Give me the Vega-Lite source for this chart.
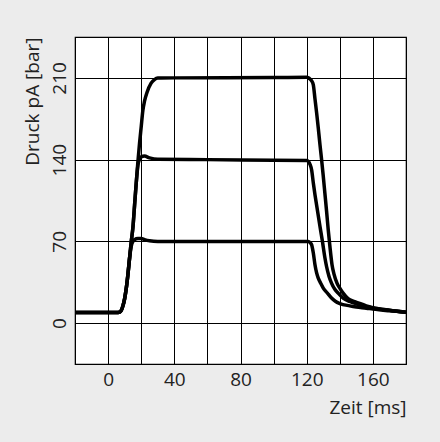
{
  "$schema": "https://vega.github.io/schema/vega-lite/v6.json",
  "autosize": {"type": "none"},
  "padding": {"left": 75, "top": 37, "right": 34, "bottom": 78},
  "width": 331,
  "height": 327,
  "background": "#ececec",
  "config": {
    "font": "Open Sans",
    "view": {"stroke": "#000000", "strokeWidth": 1.2, "fill": "#ffffff"},
    "axis": {
      "labelFont": "Open Sans",
      "titleFont": "Open Sans",
      "labelFontSize": 19,
      "titleFontSize": 19,
      "titleFontWeight": "normal",
      "labelColor": "#222222",
      "titleColor": "#222222",
      "ticks": false,
      "domain": false,
      "gridColor": "#000000",
      "gridOpacity": 1,
      "gridWidth": 1
    }
  },
  "data": {
    "values": [
      {"s": "A", "t": -20, "p": 9}, {"s": "A", "t": 5, "p": 9}, {"s": "A", "t": 7, "p": 9.5}, {"s": "A", "t": 8, "p": 11},
      {"s": "A", "t": 9, "p": 15}, {"s": "A", "t": 10, "p": 21}, {"s": "A", "t": 11, "p": 30}, {"s": "A", "t": 12, "p": 42},
      {"s": "A", "t": 13, "p": 56}, {"s": "A", "t": 14, "p": 66}, {"s": "A", "t": 15, "p": 70}, {"s": "A", "t": 16, "p": 71.5},
      {"s": "A", "t": 18, "p": 72.5}, {"s": "A", "t": 20, "p": 72.5}, {"s": "A", "t": 22, "p": 71.5}, {"s": "A", "t": 25, "p": 70.5},
      {"s": "A", "t": 30, "p": 70}, {"s": "A", "t": 60, "p": 70}, {"s": "A", "t": 100, "p": 70}, {"s": "A", "t": 121, "p": 70},
      {"s": "A", "t": 122, "p": 69}, {"s": "A", "t": 123, "p": 67}, {"s": "A", "t": 124, "p": 60}, {"s": "A", "t": 125, "p": 50},
      {"s": "A", "t": 126, "p": 43}, {"s": "A", "t": 127, "p": 38.5}, {"s": "A", "t": 128.5, "p": 34}, {"s": "A", "t": 130, "p": 30},
      {"s": "A", "t": 132.5, "p": 25.7}, {"s": "A", "t": 135, "p": 21.5}, {"s": "A", "t": 137.5, "p": 18.5}, {"s": "A", "t": 140, "p": 16.8},
      {"s": "A", "t": 146, "p": 14.8}, {"s": "A", "t": 150, "p": 13.8}, {"s": "A", "t": 156, "p": 12.8}, {"s": "A", "t": 160, "p": 12},
      {"s": "A", "t": 170, "p": 10.5}, {"s": "A", "t": 180, "p": 9.3},

      {"s": "B", "t": -20, "p": 9}, {"s": "B", "t": 5, "p": 9}, {"s": "B", "t": 7, "p": 9.5}, {"s": "B", "t": 8, "p": 11},
      {"s": "B", "t": 9, "p": 15}, {"s": "B", "t": 10, "p": 21}, {"s": "B", "t": 11, "p": 30}, {"s": "B", "t": 12, "p": 42},
      {"s": "B", "t": 13, "p": 56}, {"s": "B", "t": 14, "p": 70}, {"s": "B", "t": 15, "p": 82}, {"s": "B", "t": 16, "p": 101},
      {"s": "B", "t": 17, "p": 120}, {"s": "B", "t": 18, "p": 135}, {"s": "B", "t": 19, "p": 140.5}, {"s": "B", "t": 20, "p": 142.3},
      {"s": "B", "t": 22, "p": 143}, {"s": "B", "t": 25, "p": 141.5}, {"s": "B", "t": 30, "p": 140.3}, {"s": "B", "t": 60, "p": 140},
      {"s": "B", "t": 100, "p": 139.5}, {"s": "B", "t": 120, "p": 139.3}, {"s": "B", "t": 121, "p": 138.5}, {"s": "B", "t": 122, "p": 136},
      {"s": "B", "t": 123, "p": 131}, {"s": "B", "t": 124, "p": 120}, {"s": "B", "t": 125, "p": 110}, {"s": "B", "t": 126, "p": 101},
      {"s": "B", "t": 127, "p": 92}, {"s": "B", "t": 128, "p": 83}, {"s": "B", "t": 129.5, "p": 70}, {"s": "B", "t": 131, "p": 56},
      {"s": "B", "t": 132, "p": 48.5}, {"s": "B", "t": 133.5, "p": 40}, {"s": "B", "t": 135, "p": 34.3}, {"s": "B", "t": 137, "p": 29},
      {"s": "B", "t": 139, "p": 25.7}, {"s": "B", "t": 142, "p": 21.5}, {"s": "B", "t": 146, "p": 18.5}, {"s": "B", "t": 150, "p": 16.5},
      {"s": "B", "t": 154, "p": 14.8}, {"s": "B", "t": 160, "p": 13}, {"s": "B", "t": 170, "p": 11}, {"s": "B", "t": 180, "p": 9.3},

      {"s": "C", "t": -20, "p": 9}, {"s": "C", "t": 5, "p": 9}, {"s": "C", "t": 7, "p": 9.5}, {"s": "C", "t": 8, "p": 11},
      {"s": "C", "t": 9, "p": 15}, {"s": "C", "t": 10, "p": 21}, {"s": "C", "t": 11, "p": 30}, {"s": "C", "t": 12, "p": 42},
      {"s": "C", "t": 13, "p": 56}, {"s": "C", "t": 14, "p": 70}, {"s": "C", "t": 15, "p": 82}, {"s": "C", "t": 16, "p": 101},
      {"s": "C", "t": 17, "p": 120}, {"s": "C", "t": 18, "p": 138}, {"s": "C", "t": 19, "p": 154}, {"s": "C", "t": 20, "p": 168},
      {"s": "C", "t": 21, "p": 182}, {"s": "C", "t": 22, "p": 190}, {"s": "C", "t": 23.5, "p": 197.5}, {"s": "C", "t": 26, "p": 205.5},
      {"s": "C", "t": 28, "p": 208.5}, {"s": "C", "t": 30, "p": 209.8}, {"s": "C", "t": 40, "p": 210}, {"s": "C", "t": 100, "p": 210.3},
      {"s": "C", "t": 120, "p": 210.5}, {"s": "C", "t": 121, "p": 210}, {"s": "C", "t": 122, "p": 209}, {"s": "C", "t": 123, "p": 207.5},
      {"s": "C", "t": 124, "p": 204}, {"s": "C", "t": 125, "p": 192}, {"s": "C", "t": 126, "p": 180}, {"s": "C", "t": 127, "p": 167},
      {"s": "C", "t": 128, "p": 153}, {"s": "C", "t": 129, "p": 140}, {"s": "C", "t": 130, "p": 126}, {"s": "C", "t": 131, "p": 111},
      {"s": "C", "t": 132, "p": 96}, {"s": "C", "t": 133, "p": 80}, {"s": "C", "t": 134, "p": 66}, {"s": "C", "t": 135.3, "p": 50},
      {"s": "C", "t": 136.5, "p": 42}, {"s": "C", "t": 138.3, "p": 34.3}, {"s": "C", "t": 140, "p": 30}, {"s": "C", "t": 142, "p": 25.7},
      {"s": "C", "t": 145, "p": 21}, {"s": "C", "t": 149, "p": 18.5}, {"s": "C", "t": 152, "p": 16.8}, {"s": "C", "t": 156, "p": 14.8},
      {"s": "C", "t": 160, "p": 13.3}, {"s": "C", "t": 170, "p": 11}, {"s": "C", "t": 180, "p": 9.3}
    ]
  },
  "mark": {"type": "line", "color": "#000000", "strokeWidth": 3.5, "interpolate": "monotone", "clip": true},
  "encoding": {
    "x": {
      "field": "t", "type": "quantitative",
      "scale": {"domain": [-20, 180], "nice": false, "zero": false},
      "axis": {
        "title": "Zeit [ms]",
        "values": [-20, 0, 20, 40, 60, 80, 100, 120, 140, 160, 180],
        "labelExpr": "datum.value % 40 == 0 ? datum.label : ''",
        "labelPadding": 6,
        "labelFlush": false,
        "titleAnchor": "end",
        "titlePadding": 9
      }
    },
    "y": {
      "field": "p", "type": "quantitative",
      "scale": {"domain": [-35, 245], "nice": false, "zero": false},
      "axis": {
        "title": "Druck pA [bar]",
        "values": [0, 70, 140, 210],
        "labelAngle": 270,
        "labelAlign": "center",
        "labelBaseline": "bottom",
        "labelPadding": 6,
        "labelFlush": false,
        "titleAnchor": "end",
        "titlePadding": 8
      }
    },
    "detail": {"field": "s", "type": "nominal"}
  }
}
